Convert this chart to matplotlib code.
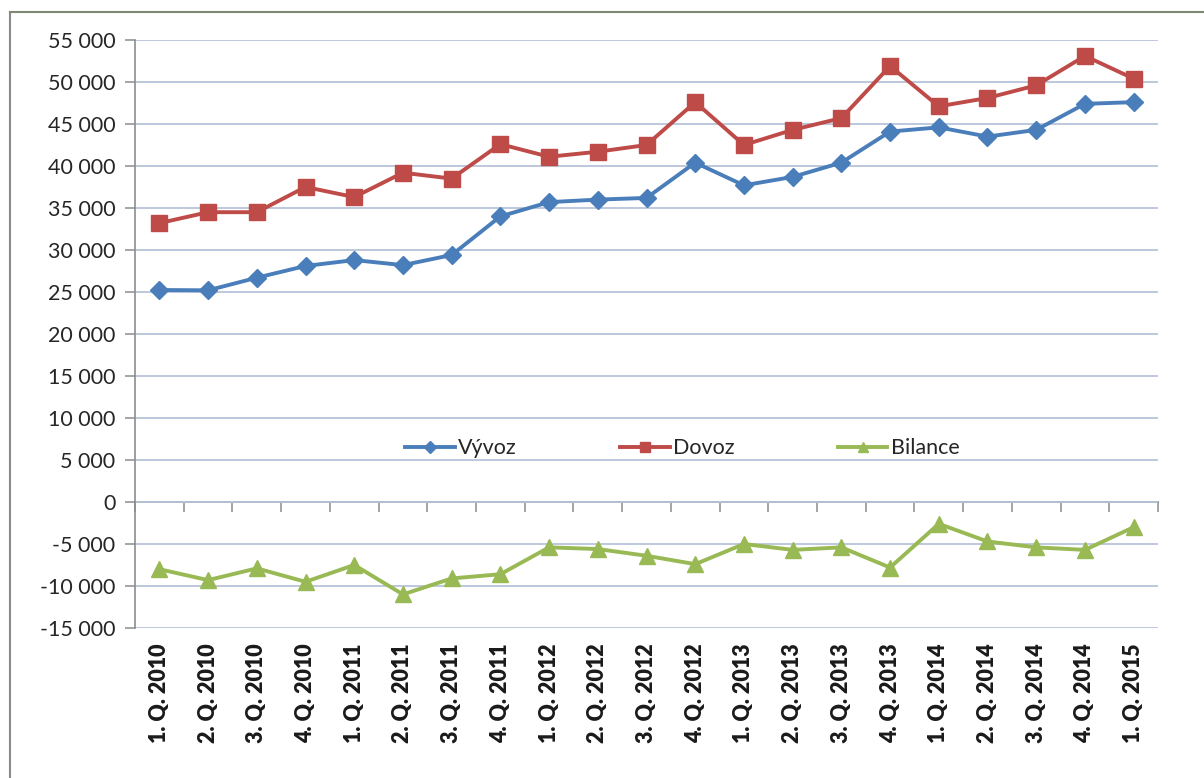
import matplotlib
matplotlib.use("Agg")
import matplotlib.pyplot as plt
from matplotlib.lines import Line2D
from matplotlib.ticker import FixedLocator, FuncFormatter

plt.rcParams['font.family'] = ['Lato', 'DejaVu Sans']

categories = ["1. Q. 2010", "2. Q. 2010", "3. Q. 2010", "4. Q. 2010",
              "1. Q. 2011", "2. Q. 2011", "3. Q. 2011", "4. Q. 2011",
              "1. Q. 2012", "2. Q. 2012", "3. Q. 2012", "4. Q. 2012",
              "1. Q. 2013", "2. Q. 2013", "3. Q. 2013", "4. Q. 2013",
              "1. Q. 2014", "2. Q. 2014", "3. Q. 2014", "4. Q. 2014",
              "1. Q. 2015"]
vyvoz = [25240, 25200, 26700, 28100, 28800, 28200, 29400, 34000,
         35700, 36000, 36200, 40400, 37700, 38700, 40400, 44100,
         44600, 43500, 44300, 47400, 47600]
dovoz = [33200, 34500, 34500, 37500, 36300, 39200, 38500, 42600,
         41100, 41700, 42500, 47600, 42500, 44300, 45700, 51900,
         47100, 48100, 49600, 53100, 50400]
bilance = [-8000, -9300, -7900, -9500, -7500, -11000, -9100, -8600,
           -5400, -5600, -6400, -7400, -5000, -5700, -5400, -7800,
           -2600, -4700, -5400, -5700, -3000]
series_names = ["Vývoz", "Dovoz", "Bilance"]
y_ticks = list(range(-15000, 55001, 5000))

W, H = 1204, 778
fig = plt.figure(figsize=(W / 100, H / 100), dpi=100)
fig.patch.set_facecolor('white')

left, right, top, bottom = 135, 1158, 40, 628
ax = fig.add_axes([left / W, 1 - bottom / H, (right - left) / W, (bottom - top) / H])

x = list(range(len(categories)))
ax.plot(x, vyvoz, color='#4A7EBB', lw=2.8, marker='D', ms=9.5, label=series_names[0], zorder=4)
ax.plot(x, dovoz, color='#BE4B48', lw=2.8, marker='s', ms=11.5, label=series_names[1], zorder=4)
ax.plot(x, bilance, color='#98B954', lw=2.8, marker='^', ms=12, label=series_names[2], zorder=4)

ymin, ymax = y_ticks[0], y_ticks[-1]
ax.set_ylim(ymin, ymax)
ax.set_xlim(-0.5, len(categories) - 0.5)

ax.yaxis.set_major_locator(FixedLocator(y_ticks))
ax.yaxis.set_major_formatter(FuncFormatter(lambda v, p: f"{int(v):,}".replace(",", " ")))
ax.grid(axis='y', color='#B9C4DA', lw=1.3, zorder=0)
ax.set_axisbelow(True)

for s in ['top', 'right', 'bottom']:
    ax.spines[s].set_visible(False)
ax.spines['left'].set_color('#8C8C8C')
ax.spines['left'].set_linewidth(1.2)
ax.tick_params(axis='y', direction='out', length=7, width=1.1, color='#8C8C8C',
               labelsize=15.5, labelcolor='#262626', pad=7)

ax.set_xticks(x)
ax.set_xticklabels(categories, rotation=90, fontsize=15.5, fontweight='heavy', color='#1a1a1a')
ax.tick_params(axis='x', length=0, pad=11)

sec = ax.secondary_xaxis((0 - ymin) / (ymax - ymin))
sec.spines['bottom'].set_color('#8C8C8C')
sec.spines['bottom'].set_linewidth(1.3)
sec.set_xticks([i - 0.5 for i in range(len(categories) + 1)])
sec.set_xticklabels([])
sec.tick_params(axis='x', direction='out', length=7, width=1.1, color='#8C8C8C')

ax.legend(loc='center', bbox_to_anchor=(0.535, 0.306), ncol=3, frameon=False,
          fontsize=15.5, handlelength=2.3, handletextpad=0.15, columnspacing=4.8,
          markerscale=0.6, labelcolor='#262626')

fig.add_artist(Line2D([10 / W, 10 / W], [0, 1 - 12 / H], color='#8A8A8A', lw=1.5))
fig.add_artist(Line2D([10 / W, 1], [1 - 12 / H, 1 - 12 / H], color='#7F8872', lw=1.5))

fig.savefig('out.png', dpi=100, facecolor='white')
